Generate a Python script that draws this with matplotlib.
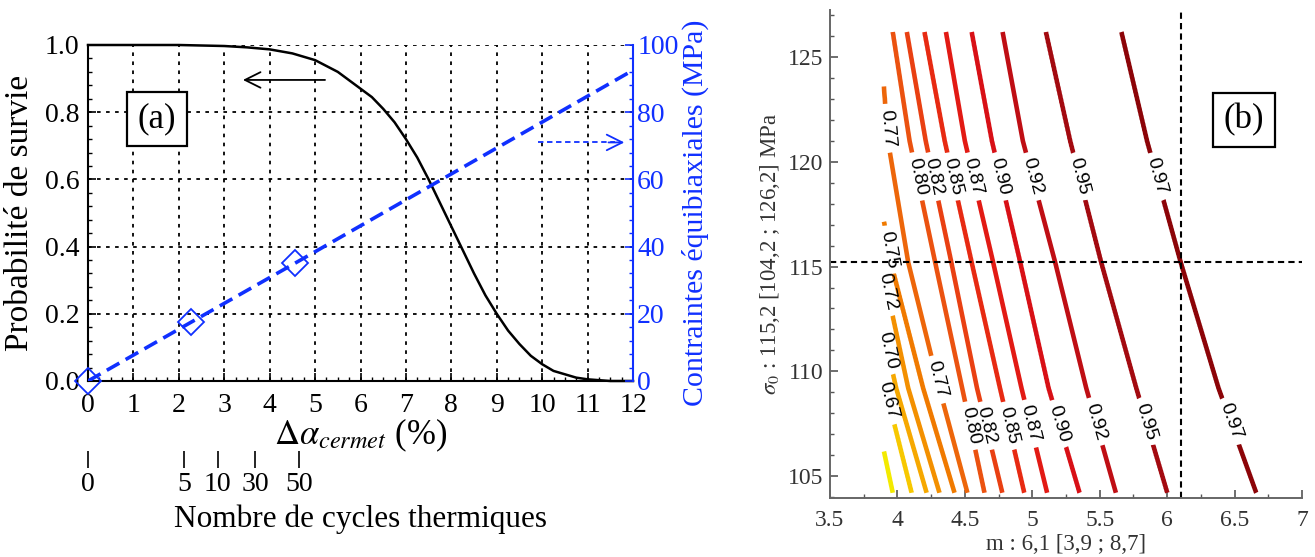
# Figure double : (a) probabilité de survie / contraintes, (b) iso-contours m - sigma0
import numpy as np
import matplotlib
matplotlib.use("Agg")
import matplotlib.pyplot as plt
from matplotlib.ticker import MultipleLocator

plt.rcParams["font.family"] = ["Liberation Serif", "DejaVu Serif"]
plt.rcParams["mathtext.fontset"] = "stix"

# ---------------------------
# Données (a)
# ---------------------------
delta_alpha = [0, 1, 2, 3, 3.5, 4, 4.5, 5, 5.5, 6, 6.25, 6.5, 6.75, 7, 7.25,
               7.5, 7.75, 8, 8.25, 8.5, 8.75, 9, 9.25, 9.5, 9.75, 10, 10.25,
               10.5, 10.75, 11, 11.5, 12]
proba_survie = [1.0, 1.0, 1.0, 0.997, 0.993, 0.987, 0.975, 0.955, 0.92, 0.87,
                0.845, 0.81, 0.77, 0.72, 0.665, 0.60, 0.53, 0.46, 0.39, 0.32,
                0.255, 0.20, 0.15, 0.11, 0.075, 0.05, 0.03, 0.02, 0.01, 0.005,
                0.0, 0.0]

contr_x = [0, 2.27, 4.55, 12]
contraintes = [0, 17.5, 35.0, 92.5]
marq_x = [0, 2.27, 4.55]
marq_y = [0, 17.5, 35.0]

cycles_pos = [0, 2.12, 2.86, 3.68, 4.65]
cycles_lab = ["0", "5", "10", "30", "50"]

# ---------------------------
# Données (b) : position m de chaque iso-ligne à plusieurs sigma0
# ---------------------------
niveaux = [0.65, 0.67, 0.70, 0.72, 0.75, 0.77, 0.80, 0.82, 0.85, 0.87,
           0.90, 0.92, 0.95, 0.97]
sigma_noeuds = [104.2, 109.2, 115.2, 121.0, 126.2]
m_104 = [3.965, 4.106, 4.216, 4.312, 4.423, 4.519, 4.645, 4.778, 4.94, 5.11,
         5.35, 5.62, 6.00, 6.66]
m_109 = [3.80, 3.91, 3.99, 4.08, 4.19, 4.31, 4.48, 4.59, 4.76, 4.92,
         5.12, 5.40, 5.77, 6.38]
m_115 = [3.60, 3.70, 3.78, 3.88, 3.95, 4.08, 4.28, 4.40, 4.55, 4.71,
         4.91, 5.17, 5.51, 6.10]
m_121 = [3.40, 3.50, 3.58, 3.66, 3.80, 3.93, 4.09, 4.21, 4.35, 4.50,
         4.70, 4.93, 5.28, 5.85]
m_126 = [3.20, 3.30, 3.40, 3.50, 3.70, 3.87, 3.965, 4.07, 4.20, 4.36,
         4.55, 4.78, 5.10, 5.66]
couleurs = ["#f3ea00", "#f7c800", "#f6a800", "#f39000", "#f07a00", "#ed660a",
            "#eb5210", "#e94012", "#e72a12", "#e21a14", "#d81016", "#bf0e14",
            "#a30a10", "#8c0408"]

# étiquettes (niveau, sigma0)
etiquettes = [(0.80, 119.3), (0.82, 119.3), (0.85, 119.3), (0.87, 119.3),
              (0.90, 119.3), (0.92, 119.3), (0.95, 119.3), (0.97, 119.3),
              (0.80, 107.4), (0.82, 107.4), (0.85, 107.4), (0.87, 107.5),
              (0.90, 107.5), (0.92, 107.6), (0.95, 107.6), (0.97, 107.6),
              (0.77, 121.6), (0.77, 109.6), (0.75, 115.8), (0.72, 113.8),
              (0.70, 111.0), (0.67, 108.6)]

m_ref, sigma_ref = 6.1, 115.2

W, H = 1315, 557
fig = plt.figure(figsize=(W / 100, H / 100), dpi=100)

# ---------------------------
# (a)
# ---------------------------
ax = fig.add_axes([88 / W, (H - 381) / H, 545 / W, 336 / H])
ax.plot(delta_alpha, proba_survie, color="k", lw=1.8, clip_on=False, zorder=3)
ax.set_xlim(0, 12)
ax.set_ylim(0, 1)
ax.set_xticks(range(0, 13))
ax.set_yticks(np.arange(0, 1.01, 0.2))
ax.set_yticklabels([f"{v:.1f}" for v in np.arange(0, 1.01, 0.2)])
ax.xaxis.set_minor_locator(MultipleLocator(0.25))
ax.yaxis.set_minor_locator(MultipleLocator(0.04))
ax.tick_params(which="both", direction="in", labelsize=20)
ax.tick_params(axis="x", pad=9)
ax.tick_params(axis="y", pad=6)
ax.tick_params(which="major", length=6, width=1.2)
ax.tick_params(which="minor", length=3, width=1)
ax.grid(True, which="major", color="k", linestyle=(0, (2, 3)), lw=1.3)
ax.spines["top"].set_visible(False)
ax.spines["right"].set_visible(False)
for s in ["left", "bottom"]:
    ax.spines[s].set_linewidth(1.5)
ax.set_ylabel("Probabilité de survie", fontsize=24, labelpad=7)
ax.set_xlabel(r"$\Delta\alpha_{cermet}$ (%)", fontsize=25, labelpad=-1)

ax.text(1.52, 0.78, "(a)", fontsize=25, ha="center", va="center",
        bbox=dict(boxstyle="square,pad=0.3", fc="white", ec="k", lw=1.6))
ax.annotate("", xy=(3.35, 0.896), xytext=(5.28, 0.896),
            arrowprops=dict(arrowstyle="->", color="k", lw=1.3, mutation_scale=28))

ax2 = ax.twinx()
ax2.plot(contr_x, contraintes, color="#1030ff", lw=2.6, ls=(0, (4, 2)), zorder=4)
ax2.plot(marq_x, marq_y, ls="none", marker="D", ms=13, mfc="none",
         mec="#1030ff", mew=1.3, clip_on=False, zorder=5)
ax2.set_ylim(0, 100)
ax2.set_yticks(range(0, 101, 20))
ax2.yaxis.set_minor_locator(MultipleLocator(4))
ax2.tick_params(which="both", direction="in", colors="#1030ff", labelsize=20, pad=3)
ax2.tick_params(which="major", length=6, width=1.2)
ax2.tick_params(which="minor", length=3, width=1)
for s in ["top", "left", "bottom"]:
    ax2.spines[s].set_visible(False)
ax2.spines["right"].set_color("#1030ff")
ax2.spines["right"].set_linewidth(1.5)
ax2.set_ylabel("Contraintes équibiaxiales (MPa)", fontsize=21.5, color="#1030ff",
               labelpad=2)
ax2.plot([9.9, 11.6], [71, 71], color="#1030ff", lw=1.3, ls=(0, (3, 2)))
ax2.annotate("", xy=(11.87, 71), xytext=(11.4, 71),
             arrowprops=dict(arrowstyle="->", color="#1030ff", lw=1.3,
                             mutation_scale=28))

# axe secondaire : nombre de cycles
ax3 = fig.add_axes([88 / W, (H - 468) / H, 545 / W, 0.0005])
ax3.set_xlim(0, 12)
ax3.set_yticks([])
ax3.set_xticks(cycles_pos)
ax3.set_xticklabels(cycles_lab)
ax3.tick_params(axis="x", direction="in", length=12, width=1.2, labelsize=20, pad=3)
for s in ax3.spines.values():
    s.set_visible(False)
ax3.patch.set_visible(False)
ax3.set_xlabel("Nombre de cycles thermiques", fontsize=22.5, labelpad=5)

# ---------------------------
# (b)
# ---------------------------
axb = fig.add_axes([830 / W, (H - 498) / H, 472 / W, 488 / H])

cols = np.array([m_104, m_109, m_115, m_121, m_126])  # (noeuds, niveaux)
mg = np.linspace(3.9, 7.2, 500)
sg = np.linspace(104.2, 126.2, 500)
Z = np.zeros((len(sg), len(mg)))
for i, s in enumerate(sg):
    mk = np.array([np.interp(s, sigma_noeuds, cols[:, k]) for k in range(len(niveaux))])
    xp = np.concatenate([[mk[0] - 0.5], mk, [mk[-1] + 1.5]])
    fp = np.concatenate([[0.55], niveaux, [0.995]])
    Z[i] = np.interp(mg, xp, fp)

cs = axb.contour(mg, sg, Z, levels=niveaux, colors=couleurs, linewidths=3.3)
pos = []
for niv, s in etiquettes:
    k = niveaux.index(niv)
    pos.append((np.interp(s, sigma_noeuds, cols[:, k]), s))
lbl = axb.clabel(cs, manual=pos, fontsize=14, fmt="%.2f", colors="k",
                 inline=True, inline_spacing=9)
for t in lbl:
    t.set_fontfamily(["Liberation Sans", "DejaVu Sans"])

axb.axhline(sigma_ref, color="k", lw=1.5, ls=(0, (3, 2)))
axb.axvline(m_ref, color="k", lw=1.5, ls=(0, (3, 2)))

axb.set_xlim(3.5, 7.0)
axb.set_ylim(103.95, 127.25)
axb.set_xticks(np.arange(3.5, 7.01, 0.5))
axb.set_xticklabels(["3.5", "4", "4.5", "5", "5.5", "6", "6.5", "7"])
axb.set_yticks([105, 110, 115, 120, 125])
axb.xaxis.set_minor_locator(MultipleLocator(0.25))
axb.yaxis.set_minor_locator(MultipleLocator(1))
axb.tick_params(which="both", direction="in", colors="#555555", labelsize=17,
                labelcolor="#333333")
axb.tick_params(axis="x", pad=9)
axb.tick_params(axis="y", pad=5)
axb.tick_params(which="major", length=6, width=1.2)
axb.tick_params(which="minor", length=3, width=1)
axb.spines["top"].set_visible(False)
axb.spines["right"].set_visible(False)
for s in ["left", "bottom"]:
    axb.spines[s].set_color("#666666")
    axb.spines[s].set_linewidth(1.4)
axb.set_ylabel(r"$\sigma_0$ : 115,2 [104,2 ; 126,2] MPa", fontsize=16.5,
               color="#333333", labelpad=4)
axb.set_xlabel("m : 6,1 [3,9 ; 8,7]", fontsize=16.5, color="#333333", labelpad=2)
axb.text(6.57, 122.0, "(b)", fontsize=25, ha="center", va="center",
         bbox=dict(boxstyle="square,pad=0.3", fc="white", ec="k", lw=1.6))

fig.savefig("out.png", dpi=100)
